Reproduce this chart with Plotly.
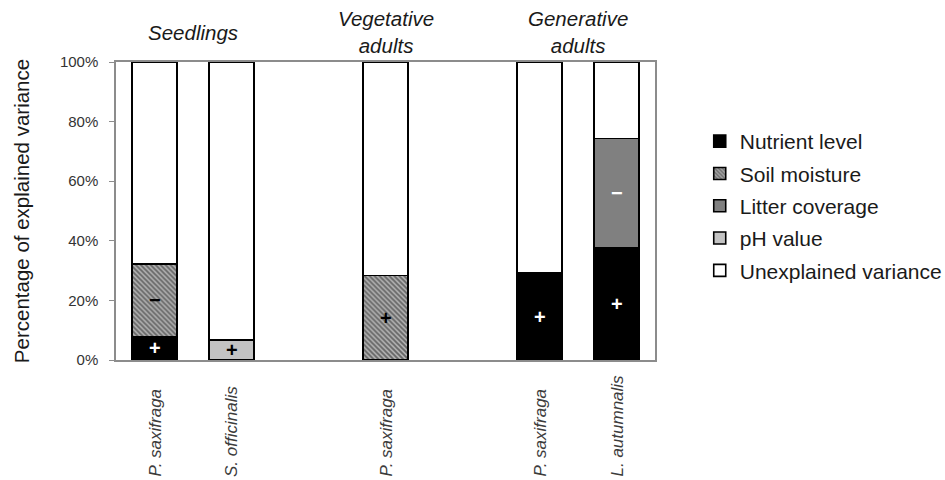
import plotly.graph_objects as go

# Life stages and the species recorded in each
stages = ["Seedlings", "Vegetative<br>adults", "Generative<br>adults"]
stage_species = [
    ["P. saxifraga", "S. officinalis"],
    ["P. saxifraga"],
    ["P. saxifraga", "L. autumnalis"],
]

# Explained variance (%) per factor, one value per species bar
factors = ["Nutrient level", "Soil moisture", "Litter coverage", "pH value"]
nutrient = [7.9, None, None, 29.1, 37.5]
soil_moisture = [24.4, None, 28.4, None, None]
litter = [None, None, None, None, 36.8]
ph_value = [None, 6.8, None, None, None]

# Direction of each effect (+ positive, − negative)
nutrient_sign = ["+", None, None, "+", "+"]
soil_sign = ["−", None, "+", None, None]
litter_sign = [None, None, None, None, "−"]
ph_sign = [None, "+", None, None, None]

y_ticks = [0, 20, 40, 60, 80, 100]
y_tick_text = ["0%", "20%", "40%", "60%", "80%", "100%"]

# ---- slot positions: one empty slot between life stages ----
x_pos, species_labels, stage_centers = [], [], []
slot = 0
for i, sp in enumerate(stage_species):
    start = slot
    for name in sp:
        x_pos.append(slot)
        species_labels.append(name)
        slot += 1
    stage_centers.append((start + slot - 1) / 2)
    slot += 1
last_slot = x_pos[-1]

explained = [nutrient, soil_moisture, litter, ph_value]
unexplained = [100 - sum(v[i] or 0 for v in explained) for i in range(len(x_pos))]

styles = [
    dict(color="black"),
    dict(color="#7a7a7a", pattern=dict(shape="\\", fgcolor="#151515", bgcolor="#b4b4b4",
                                        size=3.5, solidity=0.55)),
    dict(color="#808080"),
    dict(color="#c3c3c3"),
    dict(color="white"),
]
series = explained + [unexplained]
names = factors + ["Unexplained variance"]
signs = [nutrient_sign, soil_sign, litter_sign, ph_sign, [None] * len(x_pos)]
sign_colors = ["white", "black", "white", "black", "black"]

fig = go.Figure()
for k, (vals, name, st) in enumerate(zip(series, names, styles)):
    fig.add_trace(go.Bar(
        x=x_pos, y=vals, name=name, width=0.58,
        marker=dict(line=dict(color="black", width=1.6), **st),
        legendgroup=name, cliponaxis=False, hoverinfo="skip",
    ))

# sign labels in the middle of each segment
annotations = []
base = [0.0] * len(x_pos)
for vals, sg, col in zip(series, signs, sign_colors):
    for i, v in enumerate(vals):
        if v is None:
            continue
        if sg[i]:
            annotations.append(dict(
                x=x_pos[i], y=base[i] + v / 2, xref="x", yref="y", text="<b>%s</b>" % sg[i],
                showarrow=False, font=dict(size=20, color=col, family="Liberation Sans"),
            ))
        base[i] += v

PLOT_TOP, PLOT_BOTTOM = 62, 360
H = PLOT_BOTTOM - PLOT_TOP


def py(px):
    return (PLOT_BOTTOM - px) / H


# species names, rotated under each bar
for xp, name in zip(x_pos, species_labels):
    annotations.append(dict(
        x=xp, y=py(479), xref="x", yref="paper", text="<i>%s</i>" % name,
        textangle=-90, showarrow=False, yanchor="bottom", xanchor="center",
        font=dict(size=17, color="#3c3c3c", family="Liberation Sans"),
    ))

# life-stage headers above the bars
for stage, xc in zip(stages, stage_centers):
    annotations.append(dict(
        x=xc, y=py(32), xref="x", yref="paper",
        text="<br>".join("<i>%s</i>" % part for part in stage.split("<br>")),
        showarrow=False, yanchor="middle",
        font=dict(size=20.5, color="#1a1a1a", family="Liberation Sans"),
    ))

fig.update_layout(
    width=945, height=480,
    barmode="stack",
    plot_bgcolor="white", paper_bgcolor="white",
    margin=dict(l=116, r=290, t=PLOT_TOP, b=480 - PLOT_BOTTOM, autoexpand=False),
    font=dict(family="Liberation Sans", color="#1a1a1a"),
    showlegend=True,
    legend=dict(
        x=1.083, y=py(121), xanchor="left", yanchor="top",
        traceorder="grouped", tracegroupgap=2,
        font=dict(size=21, color="#1a1a1a"), itemwidth=30,
    ),
    annotations=annotations,
    xaxis=dict(
        range=[-0.5, last_slot + 0.5], showticklabels=False, ticks="",
        showline=True, linecolor="#8c8c8c", linewidth=1.5, mirror=True,
        showgrid=False, zeroline=False,
    ),
    yaxis=dict(
        range=[0, 100], tickmode="array", tickvals=y_ticks, ticktext=y_tick_text,
        ticks="outside", ticklen=5, tickcolor="#8c8c8c", ticklabelstandoff=8,
        tickfont=dict(size=15, color="#333333"),
        showline=True, linecolor="#8c8c8c", linewidth=1.5, mirror=True,
        showgrid=False, zeroline=False,
        title=dict(text="Percentage of explained variance", standoff=25,
                   font=dict(size=20.5, color="#1a1a1a")),
    ),
)

fig.write_html("out.html")
